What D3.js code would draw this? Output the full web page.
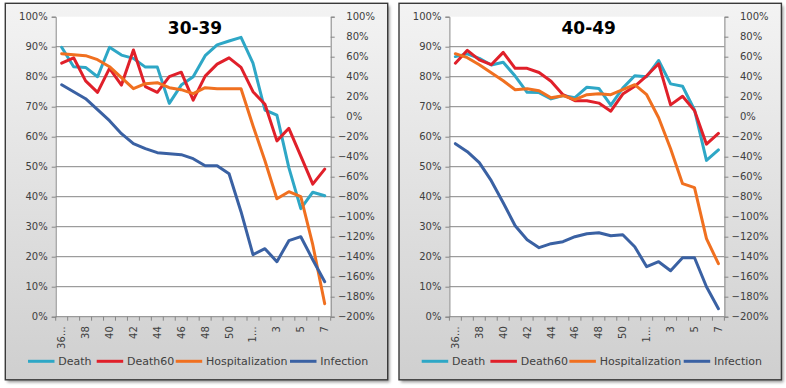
<!DOCTYPE html>
<html><head><meta charset="utf-8">
<script src="https://cdn.jsdelivr.net/npm/d3@7"></script>
<style>body{margin:0;background:#fff;} svg{display:block;font-family:"DejaVu Sans",sans-serif;}</style>
</head><body><svg id="c" width="786" height="388"></svg>
<script>
const categories = ["36…","37","38","39","40","41","42","43","44","45","46","47","48","49","50","51","1…","2","3","4","5","6","7"];
const panelTitles = ["30-39", "40-49"];
const seriesNames = ["Death", "Death60", "Hospitalization", "Infection"];
const seriesColors = ["#2ea7c6", "#e0202a", "#f07020", "#3a61a3"];
const leftTicks = [0, 0.1, 0.2, 0.3, 0.4, 0.5, 0.6, 0.7, 0.8, 0.9, 1.0];
const rightTicks = [-2, -1.8, -1.6, -1.4, -1.2, -1, -0.8, -0.6, -0.4, -0.2, 0, 0.2, 0.4, 0.6, 0.8, 1.0];

// 30-39 (Death, Death60 on left axis; Hospitalization, Infection on right axis)
const death3039 = [0.898, 0.833, 0.831, 0.80, 0.898, 0.872, 0.861, 0.832, 0.832, 0.711, 0.772, 0.80, 0.87, 0.906, 0.919, 0.931, 0.845, 0.689, 0.672, 0.497, 0.36, 0.415, 0.403];
const death60_3039 = [0.845, 0.863, 0.786, 0.748, 0.828, 0.772, 0.889, 0.767, 0.748, 0.80, 0.815, 0.722, 0.802, 0.842, 0.863, 0.831, 0.75, 0.708, 0.586, 0.628, 0.535, 0.442, 0.492];
const hosp3039 = [0.63, 0.62, 0.61, 0.57, 0.50, 0.39, 0.28, 0.33, 0.34, 0.29, 0.27, 0.23, 0.29, 0.28, 0.28, 0.28, -0.09, -0.44, -0.82, -0.75, -0.80, -1.28, -1.87];
const infection3039 = [0.32, 0.25, 0.18, 0.07, -0.04, -0.17, -0.27, -0.32, -0.36, -0.37, -0.38, -0.42, -0.49, -0.49, -0.57, -0.95, -1.38, -1.32, -1.45, -1.24, -1.20, -1.43, -1.65];

// 40-49
const death4049 = [0.867, 0.876, 0.861, 0.839, 0.848, 0.802, 0.748, 0.747, 0.726, 0.737, 0.73, 0.765, 0.761, 0.705, 0.762, 0.803, 0.80, 0.854, 0.776, 0.768, 0.689, 0.521, 0.556];
const death60_4049 = [0.845, 0.888, 0.856, 0.84, 0.881, 0.828, 0.828, 0.814, 0.785, 0.74, 0.72, 0.72, 0.712, 0.685, 0.742, 0.768, 0.803, 0.843, 0.706, 0.735, 0.687, 0.575, 0.611];
const hosp4049 = [0.63, 0.59, 0.52, 0.44, 0.36, 0.27, 0.28, 0.26, 0.19, 0.21, 0.17, 0.22, 0.23, 0.22, 0.27, 0.32, 0.22, -0.01, -0.32, -0.67, -0.71, -1.22, -1.47];
const infection4049 = [-0.27, -0.35, -0.46, -0.64, -0.86, -1.09, -1.23, -1.31, -1.27, -1.25, -1.20, -1.17, -1.16, -1.19, -1.18, -1.30, -1.50, -1.45, -1.54, -1.41, -1.41, -1.70, -1.92];

const panels = [
  {title: panelTitles[0], series: [death3039, death60_3039, hosp3039, infection3039]},
  {title: panelTitles[1], series: [death4049, death60_4049, hosp4049, infection4049]}
];
const seriesAxis = ["left", "left", "right", "right"];

const svg = d3.select("#c");
const defs = svg.append("defs");
const grad = defs.append("linearGradient").attr("id", "bg").attr("x1", 0).attr("y1", 0).attr("x2", 0).attr("y2", 1);
grad.append("stop").attr("offset", "0%").attr("stop-color", "#f3f3f3");
grad.append("stop").attr("offset", "100%").attr("stop-color", "#cfcfcf");
const filt = defs.append("filter").attr("id", "sh").attr("x", "-5%").attr("y", "-5%").attr("width", "110%").attr("height", "110%");
filt.append("feGaussianBlur").attr("stdDeviation", 1.5);

const pctFmt = d3.format(".0%");
const panelW = 382.4, panelH = 376.5, panelY = 3.3;
const panelXs = [5.3, 399.0];
const legendX = [22.7, 91.4, 170.4, 284.7];

panels.forEach((p, pi) => {
  const ox = panelXs[pi];
  const g = svg.append("g").attr("transform", `translate(${ox},${panelY})`);
  g.append("rect").attr("x", 2).attr("y", 2.5).attr("width", panelW).attr("height", panelH)
    .attr("fill", "#9a9a9a").attr("filter", "url(#sh)");
  g.append("rect").attr("width", panelW).attr("height", panelH)
    .attr("fill", "url(#bg)").attr("stroke", "#3a3a3a").attr("stroke-width", 1.4);

  const L = 50.4, R = 325.4, T = 13.4, B = 313.4;
  const x = d3.scaleBand().domain(categories).range([L, R]).padding(0);
  const yL = d3.scaleLinear().domain([0, 1]).range([B, T]);
  const yR = d3.scaleLinear().domain([-2, 1]).range([B, T]);

  g.append("rect").attr("x", L).attr("y", T).attr("width", R - L).attr("height", B - T).attr("fill", "#fff");

  // gridlines
  g.append("g").selectAll("line").data(leftTicks.filter(t => t > 0 && t < 1)).join("line")
    .attr("x1", L).attr("x2", R).attr("y1", d => yL(d)).attr("y2", d => yL(d))
    .attr("stroke", "#868686").attr("stroke-width", 1);

  // left axis
  const axL = g.append("g").attr("transform", `translate(${L},0)`)
    .call(d3.axisLeft(yL).tickValues(leftTicks).tickFormat(pctFmt).tickSizeOuter(0).tickSize(4).tickPadding(4));
  axL.select(".domain").attr("stroke", "#868686");
  axL.selectAll(".tick line").attr("stroke", "#868686");
  axL.selectAll("text").attr("font-size", 10).attr("fill", "#404040").attr("font-family", "DejaVu Sans");

  // right axis
  const axR = g.append("g").attr("transform", `translate(${R},0)`)
    .call(d3.axisRight(yR).tickValues(rightTicks).tickFormat(pctFmt).tickSizeOuter(0).tickSize(4).tickPadding(4));
  axR.select(".domain").attr("stroke", "#868686");
  axR.selectAll(".tick line").attr("stroke", "#868686");
  axR.selectAll("text").attr("font-size", 10).attr("fill", "#404040").attr("font-family", "DejaVu Sans")
    .attr("x", d => d < 0 ? 7.2 : 15.6);

  // bottom axis
  const axB = g.append("g").attr("transform", `translate(0,${B})`);
  axB.append("line").attr("x1", L).attr("x2", R).attr("stroke", "#868686");
  const bounds = categories.map(c => x(c)).concat([R]);
  axB.selectAll("line.tk").data(bounds).join("line").attr("class", "tk")
    .attr("x1", d => d).attr("x2", d => d).attr("y1", 0).attr("y2", 4).attr("stroke", "#868686");
  axB.selectAll("text").data(categories.filter((c, i) => i % 2 === 0)).join("text")
    .attr("transform", c => `translate(${x(c) + x.bandwidth() / 2},${9.5}) rotate(-90)`)
    .attr("text-anchor", "end").attr("dy", "0.35em")
    .attr("font-size", 10).attr("fill", "#404040").text(c => c);

  // lines
  p.series.forEach((vals, si) => {
    const ys = seriesAxis[si] === "left" ? yL : yR;
    const line = d3.line().x((d, i) => x(categories[i]) + x.bandwidth() / 2).y(d => ys(d));
    g.append("path").datum(vals).attr("d", line).attr("fill", "none")
      .attr("stroke", seriesColors[si]).attr("stroke-width", 3)
      .attr("stroke-linejoin", "round").attr("stroke-linecap", "round");
  });

  // title
  g.append("text").attr("x", 189.7).attr("y", 30.7).attr("text-anchor", "middle")
    .attr("font-size", 17).attr("font-weight", "bold").attr("fill", "#000").text(p.title);

  // legend
  const lg = g.append("g").attr("transform", `translate(0,${358})`);
  const items = lg.selectAll("g").data(seriesNames).join("g")
    .attr("transform", (d, i) => `translate(${legendX[i]},0)`);
  items.append("line").attr("x1", 0).attr("x2", 26.5).attr("y1", 0).attr("y2", 0)
    .attr("stroke", (d, i) => seriesColors[i]).attr("stroke-width", 3);
  items.append("text").attr("x", 30.3).attr("y", 4).attr("font-size", 11).attr("fill", "#404040").text(d => d);
});
</script></body></html>
